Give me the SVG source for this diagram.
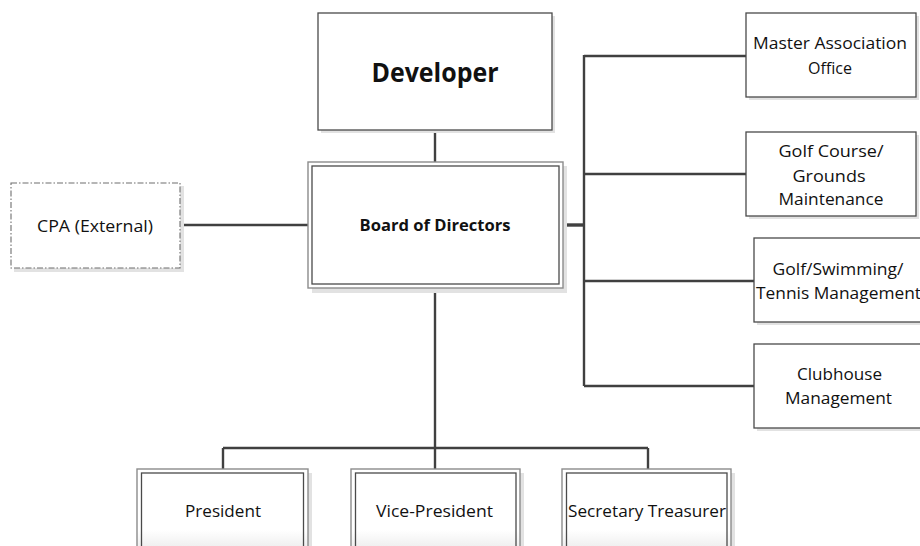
<svg xmlns="http://www.w3.org/2000/svg" width="920" height="546" viewBox="0 0 920 546">
  <defs>
    <linearGradient id="fadeBottom" gradientUnits="userSpaceOnUse" x1="0" y1="530" x2="0" y2="546">
      <stop offset="0" stop-color="#ffffff"/>
      <stop offset="1" stop-color="#f0f0f0"/>
    </linearGradient>
  </defs>
  <style>
    .shadow { fill: #e2e2e2; stroke: none; }
    .box { fill: #ffffff; stroke: #4a4a4a; stroke-width: 1.3; }
    .outer { fill: #ffffff; stroke: #8c8c8c; stroke-width: 1.4; }
    .inner { fill: none; stroke: #4a4a4a; stroke-width: 1.3; }
    .fade { fill: url(#fadeBottom); }
    .dashed { fill: #ffffff; stroke: #6e6e6e; stroke-width: 1.1; stroke-dasharray: 6 2 1.5 2; }
    .line { fill: none; stroke: #404040; stroke-width: 2.4; }
    .thick { stroke-width: 3.4; }
    text { font-family: "Open Sans", "Liberation Sans", sans-serif; fill: #111111; text-anchor: middle; }
    .lbl { font-size: 16.5px; }
    .bold { font-weight: bold; }
  </style>

  <!-- connectors -->
  <g id="connectors">
    <path class="line" d="M435 130 V162"/>
    <path class="line" d="M180 225 H308"/>
    <path class="line thick" d="M563 225 H584"/>
    <path class="line" d="M584 55 V386"/>
    <path class="line" d="M584 56 H746"/>
    <path class="line" d="M584 174 H746"/>
    <path class="line" d="M584 281 H754"/>
    <path class="line" d="M584 386 H754"/>
    <path class="line" d="M435 288 V470"/>
    <path class="line" d="M223 448 H648"/>
    <path class="line" d="M223 448 V470"/>
    <path class="line" d="M648 448 V470"/>
  </g>

  <!-- top node -->
  <g id="developer">
    <rect class="shadow" x="321" y="16" width="234" height="117"/>
    <rect class="box" x="318" y="13" width="234" height="117"/>
    <text class="bold" x="435" y="82" font-size="27" textLength="127" lengthAdjust="spacingAndGlyphs">Developer</text>
  </g>

  <!-- board -->
  <g id="board">
    <rect class="shadow" x="312" y="166" width="255" height="127"/>
    <rect class="outer" x="308" y="162" width="255" height="126"/>
    <rect class="inner" x="312" y="166" width="247" height="118"/>
    <text class="bold" x="435" y="231" font-size="16.5" textLength="151" lengthAdjust="spacingAndGlyphs">Board of Directors</text>
  </g>

  <!-- external -->
  <g id="cpa">
    <rect class="shadow" x="14" y="186" width="170" height="86"/>
    <rect class="dashed" x="11" y="183" width="169" height="85"/>
    <text class="lbl" x="95" y="232" textLength="116" lengthAdjust="spacingAndGlyphs">CPA (External)</text>
  </g>

  <!-- right column -->
  <g id="master-association">
    <rect class="shadow" x="749" y="16" width="170" height="84"/>
    <rect class="box" x="746" y="13" width="170" height="84"/>
    <text class="lbl" x="830" y="49" textLength="154" lengthAdjust="spacingAndGlyphs">Master Association</text>
    <text class="lbl" x="830" y="74" textLength="44" lengthAdjust="spacingAndGlyphs">Office</text>
  </g>

  <g id="golf-course">
    <rect class="shadow" x="749" y="135" width="170" height="84"/>
    <rect class="box" x="746" y="132" width="170" height="84"/>
    <text class="lbl" x="831" y="157" textLength="105" lengthAdjust="spacingAndGlyphs">Golf Course/</text>
    <text class="lbl" x="829" y="182" textLength="73" lengthAdjust="spacingAndGlyphs">Grounds</text>
    <text class="lbl" x="831" y="205" textLength="105" lengthAdjust="spacingAndGlyphs">Maintenance</text>
  </g>

  <g id="golf-swimming-tennis">
    <rect class="shadow" x="757" y="241" width="170" height="84"/>
    <rect class="box" x="754" y="238" width="170" height="84"/>
    <text class="lbl" x="838" y="275" textLength="131" lengthAdjust="spacingAndGlyphs">Golf/Swimming/</text>
    <text class="lbl" x="838.5" y="299" textLength="165" lengthAdjust="spacingAndGlyphs">Tennis Management</text>
  </g>

  <g id="clubhouse">
    <rect class="shadow" x="757" y="347" width="170" height="84"/>
    <rect class="box" x="754" y="344" width="170" height="84"/>
    <text class="lbl" x="839.5" y="380" textLength="85" lengthAdjust="spacingAndGlyphs">Clubhouse</text>
    <text class="lbl" x="838.5" y="404" textLength="107" lengthAdjust="spacingAndGlyphs">Management</text>
  </g>

  <!-- officers -->
  <g id="president">
    <rect class="shadow" x="141" y="473" width="171" height="82"/>
    <rect class="outer fade" x="137" y="469" width="171" height="82"/>
    <rect class="inner" x="141.5" y="473" width="162" height="82"/>
    <text class="lbl" x="223" y="517" textLength="76" lengthAdjust="spacingAndGlyphs">President</text>
  </g>

  <g id="vice-president">
    <rect class="shadow" x="355" y="473" width="169" height="82"/>
    <rect class="outer fade" x="351" y="469" width="169" height="82"/>
    <rect class="inner" x="355.5" y="473" width="160.5" height="82"/>
    <text class="lbl" x="434.5" y="517" textLength="117" lengthAdjust="spacingAndGlyphs">Vice-President</text>
  </g>

  <g id="secretary-treasurer">
    <rect class="shadow" x="566" y="473" width="169" height="82"/>
    <rect class="outer fade" x="562" y="469" width="169" height="82"/>
    <rect class="inner" x="566.5" y="473" width="160.5" height="82"/>
    <text class="lbl" x="647" y="517" textLength="158" lengthAdjust="spacingAndGlyphs">Secretary Treasurer</text>
  </g>
</svg>
